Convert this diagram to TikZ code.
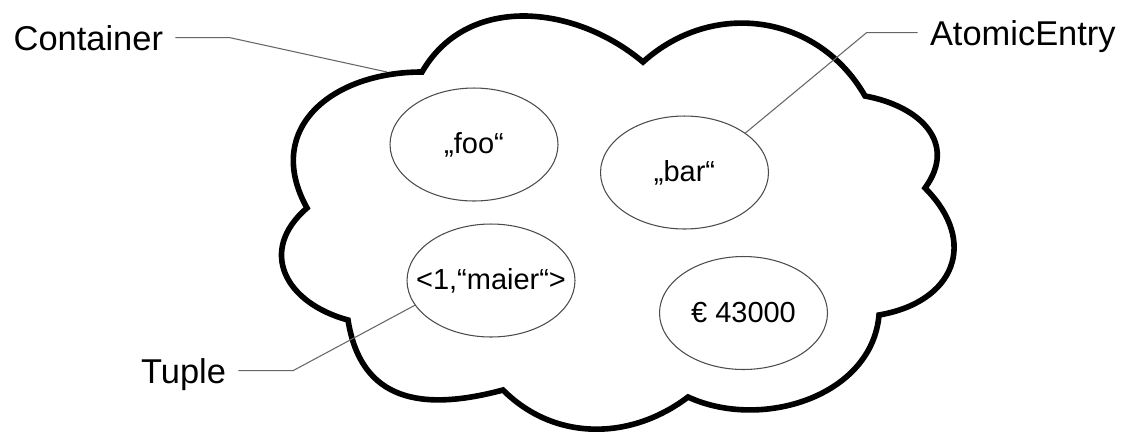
\documentclass[tikz,border=0pt]{standalone}
\usepackage{fontspec}
\setmainfont{Liberation Sans}
\usetikzlibrary{shapes.geometric}
\begin{document}
\begin{tikzpicture}[x=0.02cm,y=-0.02cm,
  cloudline/.style={line width=3.2pt, line join=miter, draw=black},
  leader/.style={draw=black!60, line width=0.6pt},
  entry/.style={ellipse, draw=black!70, line width=0.6pt, minimum width=3.36cm, minimum height=2.26cm, inner sep=0pt, font=\fontsize{16.5}{20}\selectfont},
  lbl/.style={inner sep=0pt, outer xsep=7pt, text depth=0pt, font=\fontsize{19.6}{24}\selectfont}]
\useasboundingbox[fill=white] (0,0) rectangle (1138,434);

% cloud (container)
\draw[cloudline] (422,72)
  .. controls (467,-6) and (574,4) .. (643,62)
  .. controls (713,-1) and (818,14) .. (865,96)
  .. controls (920,106) and (958,143) .. (925,188)
  .. controls (979,242) and (954.5,302) .. (879,315)
  .. controls (872,396) and (762,431) .. (688,397)
  .. controls (630,441) and (554,441) .. (503,390)
  .. controls (422.6,411.5) and (361,402) .. (348,320)
  .. controls (285,303) and (257.4,250.6) .. (307,208)
  .. controls (263,129) and (331.4,72) .. cycle;
\coordinate (cloudpt) at (387,72);

% entries
\node[entry] (foo) at (474,144.5) {\makebox[0pt]{„foo“}};
\node[entry] (bar) at (684.5,172.5) {\makebox[0pt]{„bar“}};
\node[entry] (maier) at (491,280.5) {\makebox[0pt]{<1,“maier“>}};
\node[entry] (euro) at (743.5,313) {\makebox[0pt]{€ 43000}};

% labels
\node[lbl, anchor=base east] (container) at (175.3,50) {Container};
\node[lbl, anchor=base west] (atomic) at (917.7,45) {AtomicEntry};
\node[lbl, anchor=base east] (tuple) at (238.3,383) {Tuple};

% leader lines
\draw[leader] (container.east) -- ++(54,0) -- (cloudpt);
\draw[leader] (atomic.west) -- ++(-51,0) -- (bar.33);
\draw[leader] (tuple.east) -- ++(55,0) -- (maier.198);
\end{tikzpicture}
\end{document}
